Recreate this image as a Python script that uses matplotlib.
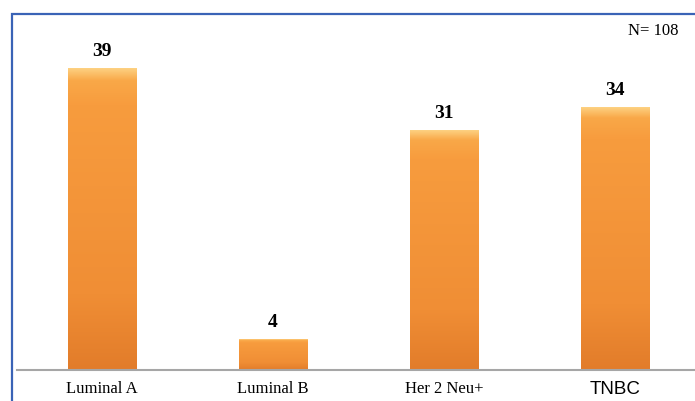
import matplotlib
matplotlib.use("Agg")
import matplotlib.pyplot as plt
from matplotlib.patches import Rectangle
from matplotlib.colors import LinearSegmentedColormap
import numpy as np

categories = ["Luminal A", "Luminal B", "Her 2 Neu+", "TNBC"]
counts = [39, 4, 31, 34]
total_label = "N= 108"

fig = plt.figure(figsize=(6.95, 4.01), dpi=100)
ax = fig.add_axes([16.5 / 695, 31 / 401, 684 / 695, 348 / 401])

x = np.arange(len(categories))
bars = ax.bar(x, counts, width=0.4, color="#F59A3C", edgecolor="#D27428",
              linewidth=0.6, zorder=2)

# bevel-like vertical gradient on each bar
cmap = LinearSegmentedColormap.from_list(
    "bevel", [(0.0, "#FDD080"), (0.04, "#F9A848"), (0.12, "#F79C3E"),
              (0.75, "#F08E35"), (1.0, "#E27C2A")])
grad = np.linspace(0, 1, 256).reshape(-1, 1)
for b in bars:
    x0, y0 = b.get_x(), b.get_y()
    w, h = b.get_width(), b.get_height()
    im = ax.imshow(grad, cmap=cmap, aspect="auto", origin="upper",
                   extent=[x0, x0 + w, y0, y0 + h], zorder=2.5,
                   interpolation="bilinear")
    im.set_clip_path(b)

for xi, v in zip(x, counts):
    ax.annotate(str(v), (xi, v), xytext=(0, 6), textcoords="offset points",
                ha="center", va="bottom", fontsize=14, fontweight="bold",
                family="Liberation Serif")

ax.set_xlim(-0.5, 3.5)
ax.set_ylim(0, 45)
ax.set_xticks(x)
ax.set_xticklabels(categories)
for lbl in ax.get_xticklabels():
    if lbl.get_text() == "TNBC":
        lbl.set_family("Liberation Sans")
        lbl.set_fontsize(13.5)
    else:
        lbl.set_family("Liberation Serif")
        lbl.set_fontsize(12)
ax.tick_params(axis="x", length=0, pad=8)
ax.set_yticks([])
for s in ["top", "right", "left"]:
    ax.spines[s].set_visible(False)
ax.spines["bottom"].set_color("#A6A6A6")
ax.spines["bottom"].set_linewidth(1.5)

fig.text(678 / 695, 1 - 31 / 401, total_label, ha="right", va="center",
         fontsize=12, family="Liberation Serif")

# blue frame (cut by the image edges on right and bottom)
fig.patches.append(Rectangle((12 / 695, -0.1), 1.2, 1.1 - 14 / 401,
                             transform=fig.transFigure, fill=False,
                             edgecolor="#3A63B6", linewidth=1.6))

fig.savefig("out.png", dpi=100)
